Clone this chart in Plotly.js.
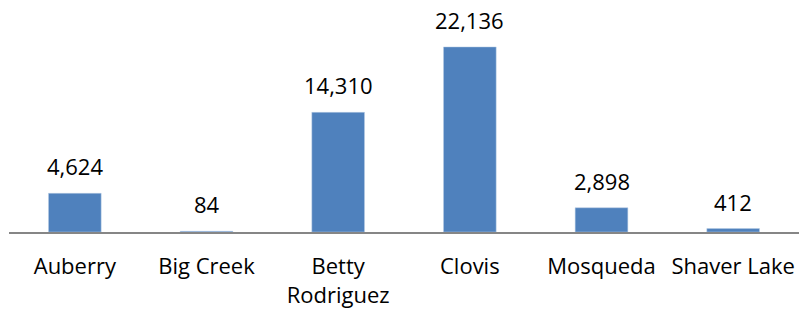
<!DOCTYPE html>
<html>
<head>
<meta charset="utf-8">
<script src="https://cdn.plot.ly/plotly-3.0.1.min.js"></script>
<style>html,body{margin:0;padding:0;background:#fff;}#chart{width:800px;height:313px;}</style>
</head>
<body>
<div id="chart"></div>
<script>
var categories = ["Auberry", "Big Creek", "Betty<br>Rodriguez", "Clovis", "Mosqueda", "Shaver Lake"];
var values = [4624, 84, 14310, 22136, 2898, 412];
var valueLabels = ["4,624", "84", "14,310", "22,136", "2,898", "412"];

var FONT = "Open Sans, sans-serif";

var trace = {
  type: "bar",
  x: categories,
  y: values,
  marker: {color: "#4F81BD", line: {color: "#B9CDE5", width: 0.5}},
  hoverinfo: "skip"
};

var annotations = categories.map(function (c, i) {
  return {
    x: c, y: values[i], xref: "x", yref: "y",
    text: valueLabels[i], showarrow: false,
    yanchor: "bottom", yshift: 10,
    font: {family: FONT, size: 22, color: "#000"}
  };
});

var layout = {
  width: 800, height: 313,
  margin: {l: 9, r: 1, t: 23, b: 81},
  paper_bgcolor: "#fff", plot_bgcolor: "#fff",
  showlegend: false,
  bargap: 0.6,
  font: {family: FONT, size: 22, color: "#000"},
  xaxis: {
    type: "category",
    showline: true, linecolor: "#868686", linewidth: 1.5,
    ticks: "", showgrid: false, zeroline: false,
    tickfont: {family: FONT, size: 22, color: "#000"},
    ticklabelstandoff: 14
  },
  yaxis: {
    range: [0, 25000], visible: false, showgrid: false, zeroline: false
  },
  annotations: annotations
};

Plotly.newPlot("chart", [trace], layout, {staticPlot: true, displayModeBar: false});
</script>
</body>
</html>
